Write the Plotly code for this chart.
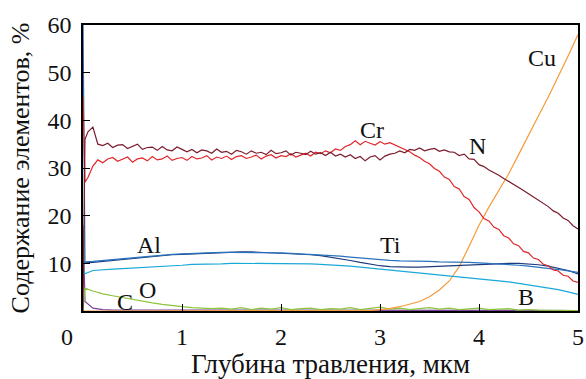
import plotly.graph_objects as go

# fine grid for noisy series (depth, um)
depth_f = [0.0, 0.02] + [round(0.05 * i, 2) for i in range(1, 101)]
# coarse grid for smooth series
depth_c = [0.0, 0.02] + [round(0.1 * i, 1) for i in range(1, 51)]

N_vals = [0.0, 36.0,
    37.6, 38.6, 35.0, 34.7, 35.2, 34.3, 34.8, 34.9, 34.1, 34.6,
    35.0, 33.9, 34.3, 34.4, 33.7, 34.5, 33.8, 33.6, 34.4, 33.9,
    33.4, 33.9, 33.2, 33.8, 33.6, 33.1, 34.0, 33.3, 33.5, 32.9,
    33.7, 33.4, 32.9, 33.6, 33.1, 33.3, 32.8, 33.7, 33.0, 33.2,
    33.6, 32.7, 33.3, 33.1, 32.8, 33.5, 32.9, 33.2, 32.6, 33.3,
    32.5, 32.9, 32.3, 32.8, 32.0, 32.4, 31.5, 32.3, 32.6, 31.7,
    32.5, 32.9, 33.1, 33.6, 33.2, 33.9, 33.7, 34.2, 33.6, 33.9,
    34.1, 33.5, 33.8, 33.4, 33.3, 32.6, 32.9, 31.9, 31.8, 30.7,
    30.3, 29.6, 29.1, 28.5, 27.8, 27.2, 26.6, 25.9, 25.3, 24.6,
    23.9, 23.3, 22.5, 21.9, 21.0, 20.5, 19.5, 19.0, 17.9, 17.2]

Cr_vals = [45.0, 27.0,
    28.0, 30.4, 31.7, 31.1, 31.9, 32.2, 31.4, 31.8, 32.3, 31.2,
    31.9, 32.1, 31.5, 32.4, 31.7, 31.9, 32.5, 31.6, 32.0, 32.2,
    31.6, 32.4, 31.9, 32.1, 32.6, 31.7, 32.3, 32.0, 32.5, 31.8,
    32.4, 32.6, 32.0, 32.3, 32.7, 31.9, 32.5, 32.8, 32.1, 32.6,
    32.4, 33.0, 32.3, 32.7, 33.1, 32.5, 33.3, 33.0, 33.6, 33.2,
    34.0, 33.7, 34.5, 34.9, 35.7, 34.9, 35.6, 35.2, 34.8, 35.5,
    35.0, 35.3, 34.8, 34.4, 33.8, 33.4, 32.7, 32.2, 31.4, 30.9,
    29.9, 29.3, 28.1, 27.6, 26.1, 25.6, 24.0, 23.4, 21.7, 20.8,
    19.4, 18.9, 17.6, 17.1, 15.8, 15.3, 14.1, 13.7, 12.5, 12.2,
    11.1, 10.8, 9.8, 9.5, 8.6, 8.4, 7.5, 7.3, 6.3, 6.0]

Ti_vals = [62.0, 10.3,
    10.4, 10.6, 10.8, 11.0, 11.2, 11.4, 11.6, 11.8, 11.9, 12.0,
    12.1, 12.2, 12.2, 12.3, 12.3, 12.3, 12.3, 12.3, 12.2, 12.2,
    12.1, 12.0, 11.9, 11.8, 11.7, 11.5, 11.3, 11.1, 10.9, 10.7,
    10.6, 10.5, 10.5, 10.4, 10.4, 10.3, 10.3, 10.2, 10.2, 10.1,
    10.0, 9.9, 9.8, 9.6, 9.4, 9.2, 9.0, 8.7, 8.4, 8.1]

Al_vals = [10.0, 10.1,
    10.2, 10.4, 10.7, 10.9, 11.1, 11.3, 11.5, 11.7, 11.8, 11.9,
    12.0, 12.1, 12.2, 12.3, 12.4, 12.4, 12.4, 12.3, 12.3, 12.2,
    12.1, 12.0, 11.8, 11.6, 11.3, 11.0, 10.6, 10.2, 9.8, 9.5,
    9.3, 9.2, 9.2, 9.2, 9.3, 9.4, 9.5, 9.6, 9.7, 9.8,
    9.9, 10.0, 10.0, 10.0, 9.9, 9.7, 9.4, 9.0, 8.5, 7.8]

B_vals = [9.0, 7.8,
    8.5, 8.7, 8.8, 8.9, 9.0, 9.2, 9.3, 9.4, 9.5, 9.6,
    9.8, 9.8, 9.9, 9.9, 10.0, 10.0, 10.0, 10.0, 10.0, 10.0,
    10.0, 9.9, 9.9, 9.8, 9.7, 9.6, 9.4, 9.2, 9.0, 8.8,
    8.6, 8.4, 8.2, 8.0, 7.8, 7.6, 7.4, 7.2, 7.0, 6.8,
    6.6, 6.3, 6.1, 5.8, 5.5, 5.2, 4.9, 4.5, 4.0, 3.5]

O_vals = [0.0, 4.8,
    4.2, 3.6, 3.2, 2.8, 2.4, 2.1, 1.7, 1.4, 1.1, 0.9,
    0.7, 0.6, 0.5, 0.6, 0.4, 0.7, 0.3, 0.6, 0.4, 0.7,
    0.3, 0.5, 0.6, 0.3, 0.5, 0.4, 0.7, 0.3, 0.6, 0.8,
    0.4, 0.6, 0.3, 0.5, 0.7, 0.4, 0.6, 0.3, 0.5, 0.6,
    0.3, 0.4, 0.5, 0.2, 0.3, 0.2, 0.2, 0.1, 0.2, 0.1]

C_vals = [18.0, 2.0,
    0.6, 0.3, 0.2, 0.2, 0.2, 0.2, 0.2, 0.2, 0.2, 0.2,
    0.2, 0.2, 0.2, 0.2, 0.2, 0.2, 0.2, 0.2, 0.2, 0.2,
    0.2, 0.2, 0.2, 0.2, 0.2, 0.2, 0.2, 0.2, 0.2, 0.2,
    0.2, 0.2, 0.2, 0.2, 0.2, 0.2, 0.2, 0.2, 0.2, 0.2,
    0.2, 0.2, 0.2, 0.2, 0.2, 0.2, 0.2, 0.2, 0.2, 0.1]

Cu_vals = [0.0, 0.0,
    0.0, 0.0, 0.0, 0.0, 0.0, 0.0, 0.0, 0.0, 0.0, 0.0,
    0.0, 0.0, 0.0, 0.0, 0.0, 0.0, 0.0, 0.0, 0.0, 0.0,
    0.0, 0.0, 0.0, 0.0, 0.0, 0.0, 0.0, 0.0, 0.1, 0.3,
    0.5, 0.9, 1.4, 2.0, 3.0, 4.4, 6.3, 9.3, 13.6, 18.0,
    21.8, 25.2, 28.8, 32.8, 37.0, 40.9, 44.9, 49.1, 53.5, 58.0]

label_text = ["Cr", "N", "Cu", "Al", "Ti", "B", "O", "C"]
label_x = [2.92, 3.98, 4.64, 0.67, 3.11, 4.47, 0.65, 0.42]
label_y = [38.0, 34.6, 53.1, 13.8, 13.8, 2.9, 4.4, 1.9]

x_ticks = [0, 1, 2, 3, 4, 5]
x_ticktext = ["", "1", "2", "3", "4", "5"]
y_ticks = [10, 20, 30, 40, 50, 60]

series = [
    (depth_c, C_vals, "#7b3f9e"),
    (depth_c, O_vals, "#8cc43c"),
    (depth_c, Cu_vals, "#f59a3a"),
    (depth_c, B_vals, "#1aa8d8"),
    (depth_c, Al_vals, "#1c3b7e"),
    (depth_c, Ti_vals, "#2a72bc"),
    (depth_f, Cr_vals, "#e0262a"),
    (depth_f, N_vals, "#7a1c2c"),
]

fig = go.Figure()
for xs, ys, col in series:
    fig.add_trace(go.Scatter(x=xs, y=ys, mode="lines",
                             line=dict(color=col, width=1.2),
                             showlegend=False, hoverinfo="skip"))

FONT = "Liberation Serif, Times New Roman, serif"
for t, lx, ly in zip(label_text, label_x, label_y):
    fig.add_annotation(x=lx, y=ly, text=t, showarrow=False,
                       xanchor="center", yanchor="middle",
                       font=dict(family=FONT, size=24, color="#111"))

fig.add_annotation(xref="paper", yref="paper", x=-0.032, y=-0.09,
                   text="0", showarrow=False,
                   xanchor="center", yanchor="middle",
                   font=dict(family=FONT, size=24, color="#111"))

fig.update_layout(
    width=586, height=379,
    margin=dict(l=83, r=8, t=25, b=68),
    paper_bgcolor="white", plot_bgcolor="white",
    font=dict(family=FONT, size=24, color="#111"),
    xaxis=dict(range=[0, 5], tickvals=x_ticks, ticktext=x_ticktext,
               ticks="inside", ticklen=7, tickwidth=1, tickcolor="black",
               showline=True, linecolor="black", linewidth=1.5, mirror=True,
               showgrid=False, zeroline=False, automargin=False,
               ticklabelstandoff=3,
               title=dict(text="Глубина травления, мкм", font=dict(size=27),
                          standoff=8)),
    yaxis=dict(range=[0, 60], tickvals=y_ticks,
               ticks="inside", ticklen=7, tickwidth=1, tickcolor="black",
               showline=True, linecolor="black", linewidth=1.5, mirror=True,
               showgrid=False, zeroline=False, automargin=False,
               ticklabelstandoff=5,
               title=dict(text="Содержание элементов, %", font=dict(size=26),
                          standoff=10)),
)

fig.write_html("out.html", config={"displayModeBar": False},
               post_script="document.body.style.margin='0';"
                           "document.body.style.overflow='hidden';")
